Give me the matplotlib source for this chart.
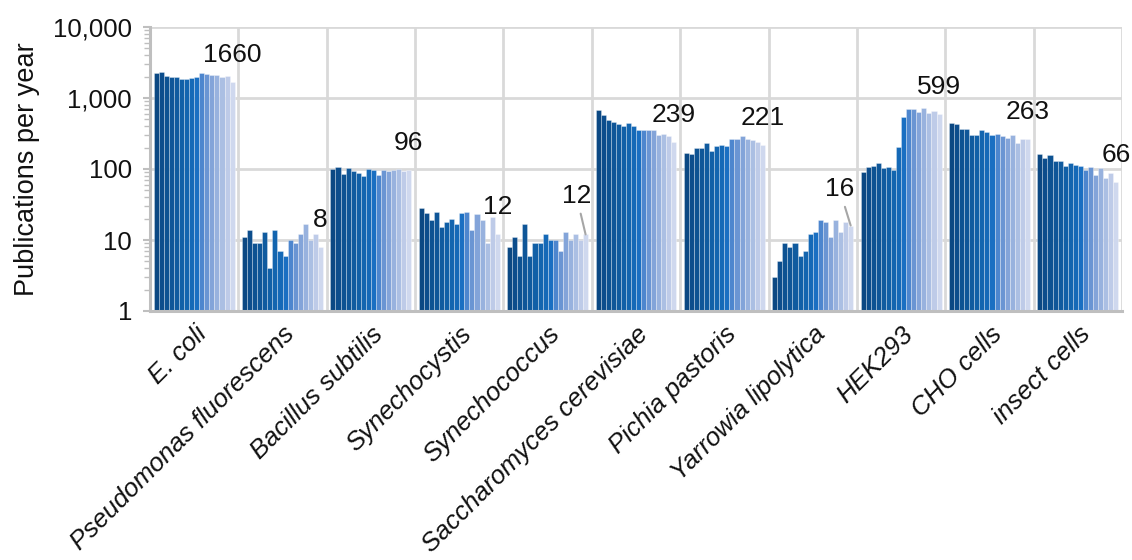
import numpy as np
import matplotlib
matplotlib.use("Agg")
import matplotlib.pyplot as plt
from matplotlib.ticker import LogLocator, FuncFormatter, NullFormatter, FixedLocator

plt.rcParams['font.family'] = ['Liberation Sans', 'DejaVu Sans']

categories = ["E. coli", "Pseudomonas fluorescens", "Bacillus subtilis", "Synechocystis",
              "Synechococcus", "Saccharomyces cerevisiae", "Pichia pastoris",
              "Yarrowia lipolytica", "HEK293", "CHO cells", "insect cells"]

ecoli = [2260, 2360, 2070, 2000, 1960, 1880, 1880, 1900, 1980, 2230, 2160, 2090, 2110, 1960, 2070, 1660]
pseudomonas = [11, 14, 9, 9, 13, 4, 14, 7, 6, 10, 9, 12, 17, 10, 12, 8]
bacillus = [100, 107, 86, 104, 94, 88, 79, 99, 96, 82, 96, 94, 97, 101, 94, 96]
synechocystis = [28, 24, 19, 25, 15, 18, 20, 17, 24, 25, 14, 23, 19, 9, 21, 12]
synechococcus = [8, 11, 6, 17, 6, 9, 9, 12, 10, 10, 7, 13, 10, 12, 10, 12]
saccharomyces = [669, 575, 483, 463, 433, 402, 438, 397, 360, 360, 349, 349, 303, 310, 293, 239]
pichia = [170, 161, 200, 196, 231, 182, 214, 219, 212, 263, 266, 290, 263, 254, 241, 221]
yarrowia = [3, 5, 9, 8, 9, 6, 7, 12, 13, 19, 18, 11, 19, 13, 18, 16]
hek293 = [92, 108, 111, 120, 103, 106, 98, 205, 544, 691, 691, 634, 714, 613, 655, 599]
cho = [440, 430, 362, 362, 305, 305, 351, 332, 298, 315, 292, 276, 298, 230, 267, 263]
insect = [165, 145, 155, 131, 131, 109, 120, 115, 110, 98, 107, 81, 102, 75, 87, 66]

series_by_category = [ecoli, pseudomonas, bacillus, synechocystis, synechococcus,
                      saccharomyces, pichia, yarrowia, hek293, cho, insect]

bar_colors = ['#0B4883', '#0C4D8C', '#0D5292', '#0F5698', '#105B9F', '#1160A7', '#1365AF',
              '#1569B7', '#1A6FC2', '#4D86CE', '#6A95D3', '#83A4D9', '#98B2DE', '#ABBFE3',
              '#BECBE8', '#CFD8EE']

fig = plt.figure(figsize=(11.32, 5.6), dpi=100)
ax = fig.add_axes([150 / 1132, 1 - 311 / 560, 972 / 1132, 284 / 560])

n_years = len(ecoli)
group_w = 0.916
w = group_w / n_years
x = np.arange(len(categories))
data = np.array(series_by_category, dtype=float)  # (11, 16)

ax.set_yscale('log')
ax.set_ylim(1, 10000)
ax.set_xlim(-0.5, len(categories) - 0.5)

for j in range(n_years):
    ax.bar(x + (j - (n_years - 1) / 2) * w, data[:, j] - 1, width=w, bottom=1,
           color=bar_colors[j], edgecolor=(1, 1, 1, 0.35), linewidth=0.6, zorder=2)

# data labels for the last year
label_offsets = {4: (-6.5, 27.5), 7: (-8.0, 26.0)}
for i, vals in enumerate(series_by_category):
    xl = x[i] + (n_years - 1) / 2 * w
    yl = vals[-1]
    dx, dy = label_offsets.get(i, (0, 19.4))
    if i in label_offsets:
        ax.annotate(f"{yl}", xy=(xl, yl), xytext=(dx, dy), textcoords='offset points',
                    ha='center', va='center', fontsize=19, color='#111111',
                    arrowprops=dict(arrowstyle='-', color='#a6a6a6', lw=1.5,
                                    shrinkA=2, shrinkB=0), zorder=4)
    else:
        ax.annotate(f"{yl}", xy=(xl, yl), xytext=(dx, dy), textcoords='offset points',
                    ha='center', va='center', fontsize=19, color='#111111', zorder=4)

# axes styling
ax.yaxis.set_major_locator(LogLocator(base=10, numticks=10))
ax.yaxis.set_minor_locator(LogLocator(base=10, subs=np.arange(2, 10), numticks=20))
ax.yaxis.set_major_formatter(FuncFormatter(lambda v, p: f"{int(round(v)):,}"))
ax.yaxis.set_minor_formatter(NullFormatter())
ax.tick_params(axis='y', which='major', length=5, width=1.5, color='#bfbfbf',
               labelsize=18.5, labelcolor='#111111', pad=8)
ax.tick_params(axis='y', which='minor', length=4, width=1, color='#bfbfbf')

ax.set_xticks(x)
ax.set_xticklabels(categories, rotation=45, ha='right', rotation_mode='anchor',
                   fontsize=18.6, fontstyle='italic', color='#111111')
ax.tick_params(axis='x', which='major', length=0, pad=8)
ax.xaxis.set_minor_locator(FixedLocator(np.arange(-0.5, len(categories), 1.0)))
ax.tick_params(axis='x', which='minor', length=0)

ax.grid(True, axis='y', which='major', color='#d9d9d9', lw=2, zorder=0)
ax.grid(True, axis='x', which='minor', color='#d9d9d9', lw=2, zorder=0)
ax.set_axisbelow(True)

for s in ['top', 'right']:
    ax.spines[s].set_visible(False)
for s in ['left', 'bottom']:
    ax.spines[s].set_color('#bfbfbf')
    ax.spines[s].set_linewidth(2.2)
    ax.spines[s].set_zorder(3)

ax.set_ylabel("Publications per year", fontsize=19.5, color='#111111', labelpad=9)

fig.savefig("out.png", dpi=100)
